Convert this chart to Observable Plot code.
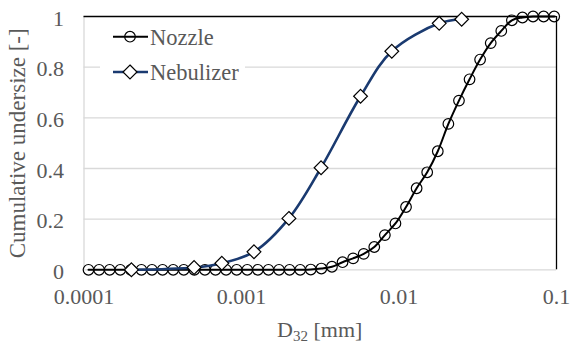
<!DOCTYPE html>
<html>
<head>
<meta charset="utf-8">
<script src="https://cdn.jsdelivr.net/npm/d3@7"></script>
<script src="https://cdn.jsdelivr.net/npm/@observablehq/plot@0.6"></script>
<style>
  body { margin: 0; background: #fff; }
  #chart { width: 571px; height: 344px; }
  #chart svg, #chart svg text, #chart svg tspan { font-family: "Liberation Serif", serif; }
</style>
</head>
<body>
<div id="chart"></div>
<script>
// ---- Data ----
const seriesNames = ["Nozzle", "Nebulizer"];

const nozzleX = [
  0.0001068, 0.0001247, 0.0001455, 0.0001699, 0.0001983, 0.0002315, 0.0002702, 0.0003155,
  0.0003683, 0.0004299, 0.0005018, 0.0005858, 0.0006839, 0.0007983, 0.0009320, 0.001088,
  0.001270, 0.001483, 0.001731, 0.002020, 0.002359, 0.002753, 0.003214, 0.003752,
  0.004380, 0.005113, 0.005969, 0.006966, 0.008133, 0.009493, 0.01108, 0.01294,
  0.01510, 0.01763, 0.02058, 0.02403, 0.02805, 0.03273, 0.03822, 0.04461,
  0.05208, 0.06079, 0.07096, 0.08284, 0.09670
];
const nozzleY = [
  0, 0, 0, 0, 0, 0, 0, 0,
  0, 0, 0, 0, 0, 0, 0, 0,
  0, 0, 0, 0, 0, 0.001, 0.005, 0.012,
  0.030, 0.045, 0.063, 0.090, 0.137, 0.183, 0.248, 0.322,
  0.385, 0.468, 0.576, 0.668, 0.752, 0.830, 0.895, 0.943,
  0.985, 0.996, 1, 1, 1
];

const nebX = [0.0002, 0.0005, 0.00075, 0.0012, 0.002, 0.0032, 0.0057, 0.009, 0.018, 0.025];
const nebY = [0, 0.009, 0.026, 0.071, 0.203, 0.403, 0.685, 0.863, 0.973, 0.989];

const xTicks = [0.0001, 0.001, 0.01, 0.1];
const xTickLabels = ["0.0001", "0.001", "0.01", "0.1"];
const yTicks = [0, 0.2, 0.4, 0.6, 0.8, 1];
const yTickLabels = ["0", "0.2", "0.4", "0.6", "0.8", "1"];
const gridTicks = [0.2, 0.4, 0.6, 0.8];

const xTitle = "D";
const xTitleSub = "32";
const xTitleRest = " [mm]";
const yTitle = "Cumulative undersize [-]";

// ---- Build tables ----
const nozzle = nozzleX.map((x, i) => ({x, y: nozzleY[i]}));
const neb = nebX.map((x, i) => ({x, y: nebY[i]}));

const FONT = "Liberation Serif";
const TXT = "#595959";
const GRID = "#d9d9d9";
const BLUE = "#1a3a70";
const FS = 22;

const W = 571, H = 344;
const ML = 83.5, MR = 15, MT = 16, MB = 74.7;

const chart = Plot.plot({
  width: W,
  height: H,
  marginLeft: ML,
  marginRight: MR,
  marginTop: MT,
  marginBottom: MB,
  style: {fontFamily: FONT, fontSize: FS + "px", color: TXT, background: "#fff", overflow: "visible"},
  x: {type: "log", domain: [xTicks[0], xTicks[xTicks.length - 1]]},
  y: {domain: [yTicks[0], yTicks[yTicks.length - 1]]},
  marks: [
    Plot.gridY(gridTicks, {stroke: GRID, strokeOpacity: 1, strokeWidth: 1.3}),
    Plot.ruleX([xTicks[0]], {stroke: GRID, strokeWidth: 1.3}),
    Plot.ruleY([yTicks[0]], {stroke: GRID, strokeWidth: 1.3}),
    Plot.ruleY([yTicks[yTicks.length - 1]], {stroke: "#000", strokeWidth: 1.3}),
    Plot.ruleX([xTicks[xTicks.length - 1]], {stroke: "#000", strokeWidth: 1.3}),
    Plot.axisX({
      ticks: xTicks,
      tickFormat: d => xTickLabels[xTicks.indexOf(d)],
      tickSize: 0,
      tickPadding: 19,
      label: null,
      fill: TXT
    }),
    Plot.axisY({
      ticks: yTicks,
      tickFormat: d => yTickLabels[yTicks.indexOf(d)],
      tickSize: 0,
      tickPadding: 20,
      dy: 2,
      label: null,
      fill: TXT
    }),
    Plot.line(nozzle, {x: "x", y: "y", stroke: "#000", strokeWidth: 2, curve: "catmull-rom"}),
    Plot.dot(nozzle, {x: "x", y: "y", r: 5.3, stroke: "#000", strokeWidth: 1.2, fill: "none"}),
    Plot.line(neb, {x: "x", y: "y", stroke: BLUE, strokeWidth: 2.6, curve: "catmull-rom"}),
    Plot.dot(neb, {x: "x", y: "y", symbol: "diamond2", r: 6.2, stroke: "#000", strokeWidth: 1.2, fill: "#fff"})
  ]
});
chart.setAttribute("font-family", FONT);

const svg = d3.select(chart);

// Y axis title
svg.append("text")
  .attr("transform", "translate(17.5,143.3) rotate(-90)")
  .attr("text-anchor", "middle")
  .attr("dy", "0.32em")
  .attr("fill", TXT)
  .attr("font-family", FONT)
  .attr("font-size", 23)
  .text(yTitle);

// X axis title with subscript
const xt = svg.append("text")
  .attr("x", (ML + (W - MR)) / 2)
  .attr("y", 337)
  .attr("text-anchor", "middle")
  .attr("fill", TXT)
  .attr("font-family", FONT)
  .attr("font-size", FS);
xt.append("tspan").text(xTitle);
xt.append("tspan").attr("font-size", 15).attr("dy", 4).text(xTitleSub);
xt.append("tspan").attr("dy", -4).text(xTitleRest);

// Legend (white box inside plot area)
const lg = svg.append("g").attr("transform", "translate(100,20)");
lg.append("rect").attr("width", 145).attr("height", 68).attr("fill", "#fff");
const rows = [
  {name: seriesNames[0], cy: 16.7, stroke: "#000", sw: 2, sym: "circle"},
  {name: seriesNames[1], cy: 52, stroke: BLUE, sw: 2.6, sym: "diamond"}
];
rows.forEach(r => {
  lg.append("line").attr("x1", 13).attr("x2", 48).attr("y1", r.cy).attr("y2", r.cy)
    .attr("stroke", r.stroke).attr("stroke-width", r.sw);
  if (r.sym === "circle") {
    lg.append("circle").attr("cx", 30).attr("cy", r.cy).attr("r", 5.3)
      .attr("fill", "none").attr("stroke", "#000").attr("stroke-width", 1.2);
  } else {
    const s = 7;
    lg.append("path")
      .attr("d", `M30,${r.cy - s}L${30 + s},${r.cy}L30,${r.cy + s}L${30 - s},${r.cy}Z`)
      .attr("fill", "#fff").attr("stroke", "#000").attr("stroke-width", 1.2);
  }
  lg.append("text").attr("x", 50).attr("y", r.cy).attr("dy", "0.35em")
    .attr("text-anchor", "start")
    .attr("fill", TXT).attr("font-family", FONT).attr("font-size", 22.5)
    .text(r.name);
});

document.getElementById("chart").appendChild(chart);
</script>
</body>
</html>
